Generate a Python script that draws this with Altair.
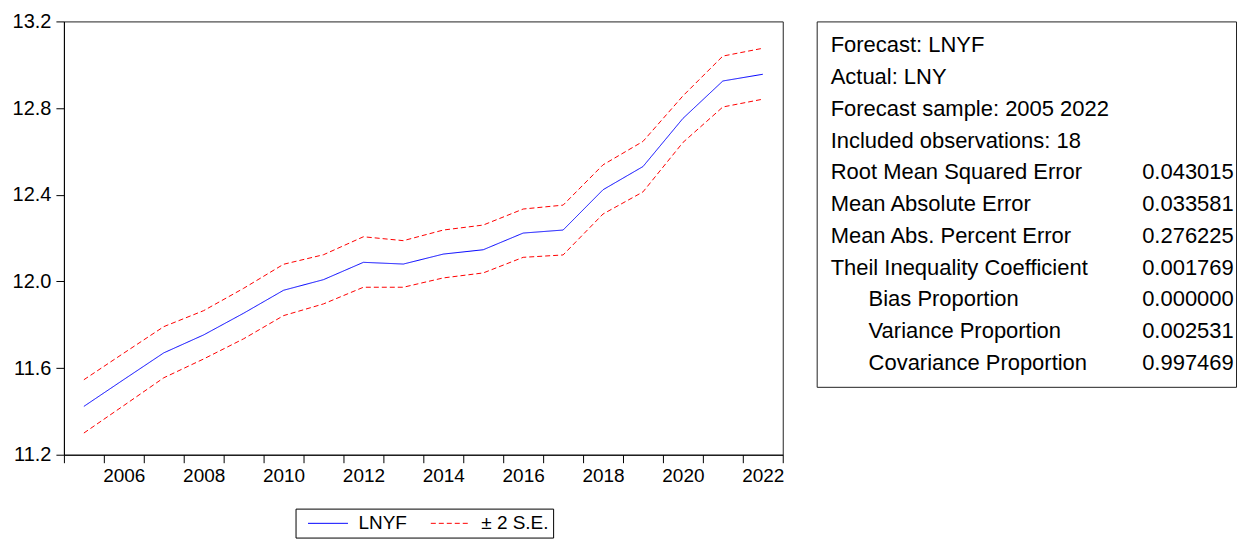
import altair as alt
import pandas as pd

# ---- data ----
years = list(range(2005, 2023))
lnyf = [11.423, 11.547, 11.670, 11.753, 11.853, 11.959, 12.008, 12.088, 12.080,
        12.126, 12.146, 12.223, 12.237, 12.423, 12.530, 12.752, 12.925, 12.956]
upper = [11.546, 11.669, 11.791, 11.865, 11.968, 12.079, 12.123, 12.206, 12.188,
         12.237, 12.260, 12.334, 12.352, 12.538, 12.646, 12.856, 13.040, 13.076]
lower = [11.300, 11.427, 11.555, 11.642, 11.735, 11.842, 11.896, 11.973, 11.973,
         12.016, 12.039, 12.111, 12.122, 12.311, 12.413, 12.641, 12.805, 12.841]

series_names = ["LNYF", "± 2 S.E."]
y_ticks = [11.2, 11.6, 12.0, 12.4, 12.8, 13.2]
x_ticks = [2004.5 + i for i in range(19)]

stat_labels = ["Forecast: LNYF", "Actual: LNY", "Forecast sample: 2005 2022",
               "Included observations: 18", "Root Mean Squared Error",
               "Mean Absolute Error", "Mean Abs. Percent Error",
               "Theil Inequality Coefficient", "Bias Proportion",
               "Variance Proportion", "Covariance Proportion"]
stat_values = ["", "", "", "", "0.043015", "0.033581", "0.276225", "0.001769",
               "0.000000", "0.002531", "0.997469"]
stat_indent = [0, 0, 0, 0, 0, 0, 0, 0, 1, 1, 1]

FONT = "Liberation Sans"
NB = "\u00a0"

# ---- long table for the lines ----
rows = []
for y, a, u, l in zip(years, lnyf, upper, lower):
    rows.append({"year": y, "value": a, "series": series_names[0], "band": "fc"})
    rows.append({"year": y, "value": u, "series": series_names[1], "band": "up"})
    rows.append({"year": y, "value": l, "series": series_names[1], "band": "lo"})
df = pd.DataFrame(rows)

legend = alt.Legend(
    title=None, orient="none", legendX=232, legendY=488, direction="horizontal",
    symbolType="M-2,0H2", symbolSize=400, symbolStrokeWidth=1,
    labelFont=FONT, labelFontSize=19, labelColor="black", labelOffset=20,
    columnPadding=15, padding=4, symbolOffset=18, strokeColor="black",
    labelExpr="datum.label == '± 2 S.E.' ? datum.label + '" + NB * 3 + "' : datum.label",
)

plot = alt.Chart(df).mark_line(strokeWidth=1).encode(
    x=alt.X("year:Q",
            scale=alt.Scale(domain=[2004.5, 2022.5], nice=False, zero=False),
            axis=alt.Axis(values=x_ticks, title=None, grid=False,
                          labelExpr="(datum.value + 0.5) % 2 == 0 ? format(datum.value + 0.5, 'd') : ''",
                          labelOffset=20, labelFlush=False, labelOverlap=False,
                          labelBound=False, labelFontSize=19, labelPadding=4,
                          tickSize=8)),
    y=alt.Y("value:Q",
            scale=alt.Scale(domain=[11.2, 13.2], nice=False, zero=False),
            axis=alt.Axis(values=y_ticks, format=".1f", title=None, grid=False,
                          labelFontSize=20, labelPadding=5, tickSize=8,
                          labelFlush=False, labelOverlap=False)),
    color=alt.Color("series:N",
                    scale=alt.Scale(domain=series_names, range=["#0000FF", "#FF0000"]),
                    legend=legend),
    strokeDash=alt.StrokeDash("series:N",
                              scale=alt.Scale(domain=series_names, range=[[1, 0], [5, 3]]),
                              legend=legend),
    detail="band:N",
).properties(width=720, height=434)

# ---- statistics panel ----
tp = pd.DataFrame({"row": list(range(len(stat_labels))), "label": stat_labels,
                   "value": stat_values, "indent": stat_indent})
ybase = alt.Y("row:Q", axis=None,
              scale=alt.Scale(domain=[-0.755, 10.755], reverse=True, nice=False, zero=False))

lab = alt.Chart(tp).transform_calculate(px="14 + 38 * datum.indent").mark_text(
    align="left", baseline="middle", font=FONT, fontSize=22, color="black"
).encode(x=alt.X("px:Q", scale=None), y=ybase, text="label:N")

val = alt.Chart(tp).mark_text(
    align="left", baseline="middle", font=FONT, fontSize=22, color="black"
).encode(x=alt.value(326), y=ybase, text="value:N")

panel = alt.layer(lab, val).properties(width=420, height=366)

chart = alt.hconcat(plot, panel, spacing=12).configure(
    padding={"left": 3, "top": 2, "right": 0, "bottom": 0},
    font=FONT,
).configure_view(
    stroke="#222222", strokeWidth=1
).configure_axis(
    labelFont=FONT, labelColor="black", domainColor="black", tickColor="black",
    domainWidth=1, tickWidth=1,
)

chart.save("out.html", embed_options={"renderer": "svg", "actions": False})
